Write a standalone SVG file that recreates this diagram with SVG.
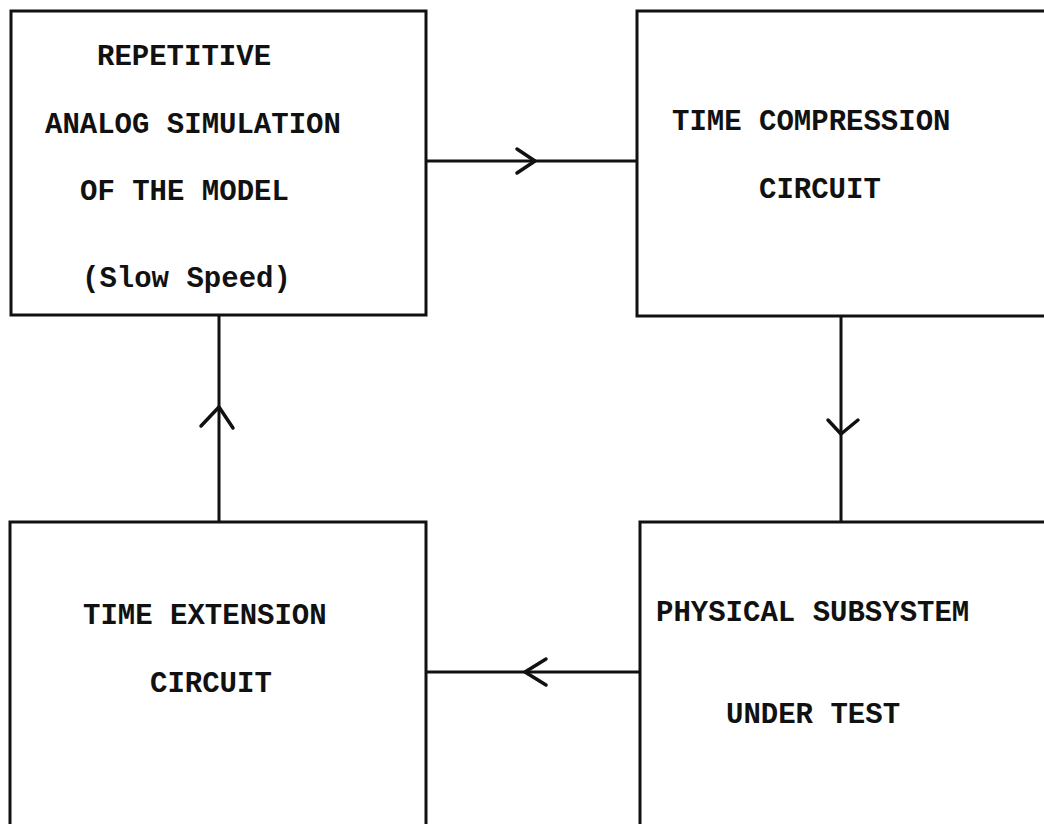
<svg xmlns="http://www.w3.org/2000/svg" width="1044" height="824" viewBox="0 0 1044 824">
  <style>
    .box { fill: none; stroke: #111; stroke-width: 3; }
    .wire { fill: none; stroke: #111; stroke-width: 3; }
    .head { fill: none; stroke: #111; stroke-width: 3.5; stroke-linecap: round; stroke-linejoin: round; }
    .lbl { font-family: "Liberation Mono", "DejaVu Sans Mono", monospace; font-size: 29px; font-weight: bold; fill: #111; }
  </style>
  <rect x="0" y="0" width="1044" height="824" fill="#fff"/>

  <!-- loop of signal paths between the four blocks -->
  <g id="connectors">
    <line class="wire" x1="426" y1="161" x2="637" y2="161"/>
    <polyline class="head" points="517,149 535,161 517,173"/>

    <line class="wire" x1="841" y1="316" x2="841" y2="522"/>
    <polyline class="head" points="828,420 841,434 858,420"/>

    <line class="wire" x1="640" y1="672" x2="426" y2="672"/>
    <polyline class="head" points="546,659 525,672 546,685"/>

    <line class="wire" x1="219" y1="522" x2="219" y2="315"/>
    <polyline class="head" points="201,426 219,407 233,428"/>
  </g>

  <g id="analog-simulation">
    <rect class="box" x="11" y="11" width="415" height="304"/>
    <text class="lbl" x="97" y="65">REPETITIVE</text>
    <text class="lbl" x="45" y="133">ANALOG SIMULATION</text>
    <text class="lbl" x="80" y="200">OF THE MODEL</text>
    <text class="lbl" x="82" y="287">(Slow Speed)</text>
  </g>

  <g id="time-compression">
    <path class="box" d="M1050,11 H637 V316 H1050"/>
    <text class="lbl" x="672" y="130">TIME COMPRESSION</text>
    <text class="lbl" x="759" y="198">CIRCUIT</text>
  </g>

  <g id="physical-subsystem">
    <path class="box" d="M1050,522 H640 V830"/>
    <text class="lbl" x="656" y="621">PHYSICAL SUBSYSTEM</text>
    <text class="lbl" x="726" y="723">UNDER TEST</text>
  </g>

  <g id="time-extension">
    <path class="box" d="M10,830 V522 H426 V830"/>
    <text class="lbl" x="83" y="624">TIME EXTENSION</text>
    <text class="lbl" x="150" y="692">CIRCUIT</text>
  </g>
</svg>
